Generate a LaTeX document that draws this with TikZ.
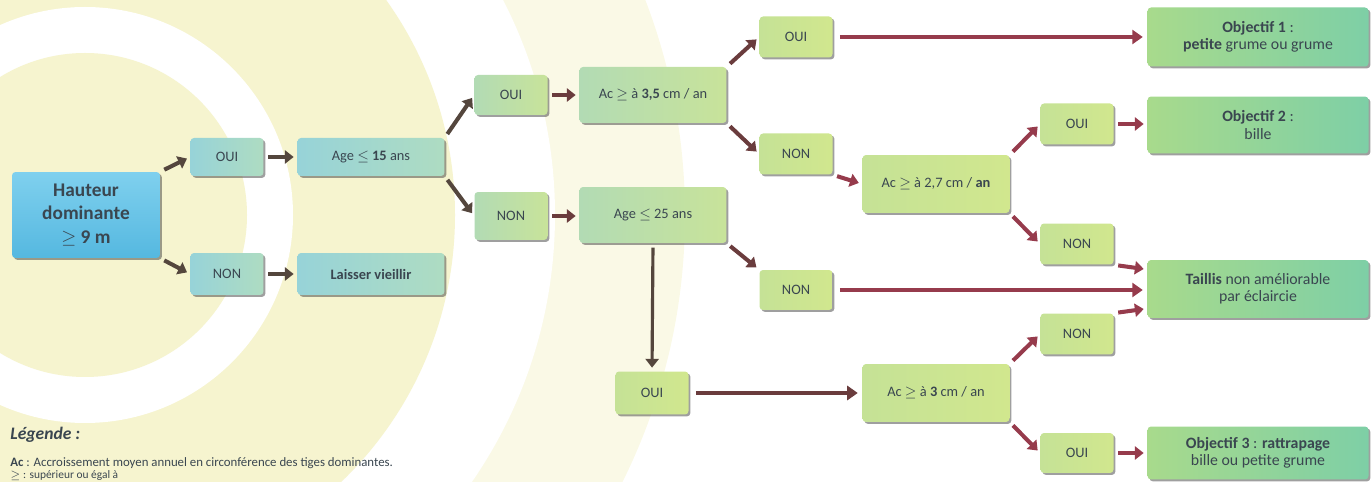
\documentclass[tikz,border=0pt]{standalone}
\usepackage{fontspec}
\setmainfont{Carlito}
\usetikzlibrary{arrows.meta,shadows}

\definecolor{ringyellow}{HTML}{F6F4CF}
\definecolor{ringpale}{HTML}{FAF9E6}
\definecolor{txt}{HTML}{3A4650}
\definecolor{skyA}{HTML}{7FD0EE}
\definecolor{skyB}{HTML}{55B8E0}
\definecolor{tealA}{HTML}{97D3D8}
\definecolor{tealB}{HTML}{AEDCC2}
\definecolor{sageA}{HTML}{B2DBB4}
\definecolor{sageB}{HTML}{C8E39A}
\definecolor{limeA}{HTML}{C5E296}
\definecolor{limeB}{HTML}{D1E78E}
\definecolor{goalA}{HTML}{A8DA8C}
\definecolor{goalB}{HTML}{7ECFA6}
\definecolor{arrdark}{HTML}{54463D}
\definecolor{arrbrown}{HTML}{6A3C3D}
\definecolor{arrred}{HTML}{963B4C}

\begin{document}
\begin{tikzpicture}[x=0.02cm,y=-0.02cm,
    box/.style={rounded corners=2pt, text=txt, align=center, inner sep=1pt,
      font=\fontsize{8.2}{9.5}\selectfont,
      drop shadow={shadow xshift=1.1pt, shadow yshift=-1.1pt, fill=black!75, opacity=.5}},
    choice/.style={box, minimum width=1.46cm, minimum height=0.82cm},
    test/.style={box, minimum width=2.94cm, minimum height=1.12cm},
    goal/.style={box, minimum width=4.42cm, minimum height=1.16cm,
      left color=goalA, right color=goalB, font=\fontsize{9}{9.8}\selectfont},
    lvla/.style={left color=tealA, right color=tealB},
    lvlb/.style={left color=sageA, right color=sageB},
    lvlc/.style={left color=limeA, right color=limeB},
    hop/.style={line width=2.3pt, -{Triangle[length=5pt,width=7.5pt]},
      shorten <=2.5pt, shorten >=2pt},
    run/.style={line width=2.4pt, arrred, -{Triangle[length=6pt,width=8pt]},
      shorten <=4pt, shorten >=2.5pt}]

  \useasboundingbox (0,0) rectangle (1371,482);

  % background rings
  \begin{scope}
    \clip (0,0) rectangle (1371,482);
    \fill[ringpale] (85,215) circle (600);
    \fill[white] (85,215) circle (470);
    \fill[ringyellow] (85,215) circle (370);
    \fill[white] (85,215) circle (208);
    \fill[ringyellow] (85,215) circle (162);
  \end{scope}

  % first split
  \node[box, top color=skyA, bottom color=skyB, minimum width=2.96cm,
    minimum height=1.72cm, font=\fontsize{11}{13.6}\bfseries] (haut) at (86,215)
    {Hauteur\\dominante\\$\geq$ 9 m};
  \node[choice, lvla, minimum height=0.76cm] (oui1) at (227,157) {OUI};
  \node[test, lvla, minimum height=0.76cm] (age15) at (371,157) {Age $\leq$ \textbf{15} ans};
  \node[choice, lvla, minimum height=0.84cm] (non1) at (227,274) {NON};
  \node[test, lvla, minimum height=0.84cm] (vieil) at (371,274) {\textbf{Laisser vieillir}};

  % second split
  \node[choice, lvlb, minimum height=0.8cm] (oui2) at (511,95) {OUI};
  \node[test, lvlb] (ac35) at (653,95) {Ac $\geq$ à \textbf{3,5} cm / an};
  \node[choice, lvlb, minimum height=0.96cm] (non2) at (511,216) {NON};
  \node[test, lvlb] (age25) at (653,215) {Age $\leq$ 25 ans};

  % third split
  \node[choice, lvlc] (oui3) at (796,37) {OUI};
  \node[choice, lvlc] (non3) at (796,154) {NON};
  \node[test, lvlc, minimum height=1.16cm] (ac27) at (936,184) {Ac $\geq$ à 2,7 cm / \textbf{an}};
  \node[choice, lvlc, minimum height=0.8cm] (non5) at (796,290) {NON};
  \node[choice, lvlc, minimum height=0.86cm] (oui5) at (652,393) {OUI};
  \node[test, lvlc, minimum height=1.16cm] (ac3) at (936,393) {Ac $\geq$ à \textbf{3} cm / an};

  \node[choice, lvlc] (oui4) at (1077,124) {OUI};
  \node[choice, lvlc] (non4) at (1077,244) {NON};
  \node[choice, lvlc] (non6) at (1077,334) {NON};
  \node[choice, lvlc, minimum height=0.8cm] (oui6) at (1077,453) {OUI};

  % goals
  \node[goal, minimum height=1.18cm] (obj1) at (1258,37) {\textbf{Objectif 1} :\\\textbf{petite} grume ou grume};
  \node[goal, minimum height=1.14cm] (obj2) at (1258,125) {\textbf{Objectif 2} :\\bille};
  \node[goal] (taillis) at (1258,289) {\textbf{Taillis} non améliorable\\par éclaircie};
  \node[goal, minimum height=1.06cm] (obj3) at (1258,453) {\textbf{Objectif 3} : \textbf{rattrapage}\\bille ou petite grume};

  % connectors
  \draw[hop, arrdark] (haut.north east) -- (oui1.west);
  \draw[hop, arrdark] (haut.south east) -- (non1.west);
  \draw[hop, arrdark] (oui1.east) -- (age15.west);
  \draw[hop, arrdark] (non1.east) -- (vieil.west);
  \draw[hop, arrdark] (age15.north east) -- (oui2.west);
  \draw[hop, arrdark] (age15.south east) -- (non2.west);
  \draw[hop, arrbrown] (oui2.east) -- (ac35.west);
  \draw[hop, arrbrown] (non2.east) -- (non2.east -| age25.west);
  \draw[hop, arrbrown] (ac35.north east) -- (oui3.west);
  \draw[hop, arrbrown] (ac35.south east) -- (non3.west);
  \draw[hop, arrbrown] (age25.south east) -- (non5.north west);
  \draw[hop, arrdark, line width=1.8pt] (age25.south) -- (oui5.north);
  \draw[hop, arrred] (non3.south east) -- (ac27.west);
  \draw[run] (oui3.east) -- (oui3.east -| obj1.west);
  \draw[run] (non5.east) -- (non5.east -| taillis.west);
  \draw[run, arrbrown] (oui5.east) -- (oui5.east -| ac3.west);
  \draw[hop, arrred] (ac27.north east) -- (oui4.west);
  \draw[hop, arrred] (ac27.south east) -- (non4.west);
  \draw[hop, arrred] (ac3.north east) -- (non6.west);
  \draw[hop, arrred] (ac3.south east) -- (oui6.west);
  \draw[hop, arrred] (oui4.east) -- (oui4.east -| obj2.west);
  \draw[hop, arrred] (non4.south east) -- (taillis.170);
  \draw[hop, arrred] (non6.north east) -- (taillis.190);
  \draw[hop, arrred] (oui6.east) -- (oui6.east -| obj3.west);

  % legend
  \node[anchor=base west, inner sep=0pt, text=txt, font=\fontsize{10}{11}\bfseries\itshape] (leg) at (10,439) {Légende :};
  \node[anchor=base west, inner sep=0pt, text=txt, font=\fontsize{7.3}{8}\selectfont] (legac) at (10,466)
    {\textbf{Ac} : Accroissement moyen annuel en circonférence des tiges dominantes.};
  \node[anchor=base west, inner sep=0pt, text=txt, font=\fontsize{6.5}{7}\selectfont] (legge) at (10,478.5)
    {$\geq$ : supérieur ou égal à};
\end{tikzpicture}
\end{document}
